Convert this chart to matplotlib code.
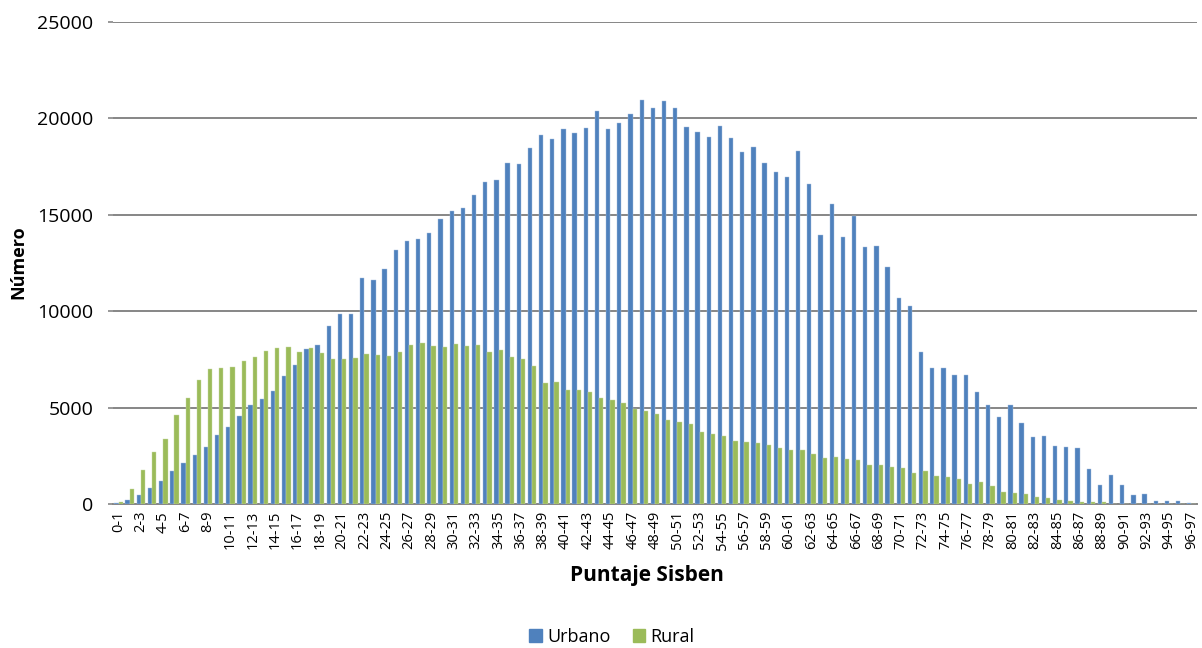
import matplotlib
matplotlib.use("Agg")
import matplotlib.pyplot as plt
import numpy as np
from matplotlib.patches import Patch

categories = [f"{i}-{i+1}" for i in range(97)]

urbano = [60, 208, 467, 813, 1194, 1713, 2111, 2526, 2958, 3581,
          3996, 4585, 5121, 5467, 5847, 6626, 7197, 8062, 8269, 9238,
          9861, 9861, 11729, 11643, 12179, 13183, 13650, 13736, 14048, 14792,
          15189, 15362, 16003, 16695, 16781, 17698, 17646, 18442, 19151, 18926,
          19428, 19255, 19497, 20379, 19445, 19739, 20223, 20933, 20552, 20881,
          20535, 19566, 19307, 19047, 19618, 18978, 18269, 18494, 17681, 17196,
          16937, 18304, 16591, 13927, 15535, 13823, 14913, 13321, 13407, 12300,
          10691, 10276, 7906, 7076, 7041, 6712, 6712, 5830, 5138, 4515,
          5155, 4187, 3495, 3547, 2993, 2958, 2906, 1817, 986, 1505,
          986, 467, 519, 156, 173, 156, 35]

rural = [120, 760, 1765, 2680, 3356, 4620, 5519, 6436, 7007, 7076,
         7093, 7422, 7629, 7941, 8096, 8131, 7889, 8096, 7820, 7526,
         7526, 7595, 7802, 7716, 7681, 7872, 8252, 8339, 8200, 8166,
         8287, 8218, 8252, 7889, 7975, 7612, 7508, 7162, 6280, 6349,
         5917, 5917, 5813, 5502, 5380, 5242, 4931, 4844, 4671, 4377,
         4239, 4135, 3737, 3616, 3512, 3287, 3218, 3149, 3045, 2906,
         2803, 2803, 2578, 2387, 2439, 2336, 2266, 2024, 2024, 1903,
         1851, 1592, 1713, 1436, 1384, 1280, 1055, 1159, 934, 640,
         554, 536, 381, 329, 190, 173, 104, 87, 121, 20,
         0, 0, 0, 0, 0, 0, 0]

y_ticks = [0, 5000, 10000, 15000, 20000, 25000]

blue = "#4F81BD"
green = "#9BBB59"
grid_c = "#868686"
font = "Open Sans"

fig = plt.figure(figsize=(12.02, 6.48), dpi=100)
ax = fig.add_axes([113/1202, 1 - 504/648, (1197-113)/1202, (504-22)/648])

x = np.arange(len(categories))
w = 0.385
ax.bar(x - w/2, urbano, width=w, color=blue, edgecolor="#A7C0DE", linewidth=0.3, zorder=3)
ax.bar(x + w/2, rural, width=w, color=green, edgecolor="#C9DAA8", linewidth=0.3, zorder=3)

ax.set_xlim(-0.5, len(categories) - 0.5)
ax.set_ylim(0, 25000)
ax.set_yticks(y_ticks)
ax.set_yticklabels([str(t) for t in y_ticks], fontsize=14, family=font)
ax.yaxis.grid(True, color=grid_c, linewidth=1.4, zorder=0)
ax.set_axisbelow(True)

ax.set_xticks(x[::2])
ax.set_xticklabels(categories[::2], rotation=90, fontsize=10.5, family=font)
ax.tick_params(axis="x", length=0, pad=5)
ax.tick_params(axis="y", length=3.6, color=grid_c, width=1.2, pad=10.5)

for s in ["top", "right", "left"]:
    ax.spines[s].set_visible(False)
ax.spines["bottom"].set_color(grid_c)
ax.spines["bottom"].set_linewidth(1.4)

fig.text(18/1202, 1 - 262/648, "Número", rotation=90, ha="center", va="center",
         fontsize=13, fontweight="bold", family=font)
fig.text(647/1202, 1 - 575/648, "Puntaje Sisben", ha="center", va="center",
         fontsize=15, fontweight="bold", family=font)

handles = [Patch(color=blue, label="Urbano"), Patch(color=green, label="Rural")]
fig.legend(handles=handles, loc="center", bbox_to_anchor=(612/1202, 1 - 637/648),
           ncol=2, frameon=False, prop={"family": font, "size": 13},
           handlelength=0.7, handleheight=0.7, handletextpad=0.3, columnspacing=1.2)

fig.savefig("out.png", dpi=100)
